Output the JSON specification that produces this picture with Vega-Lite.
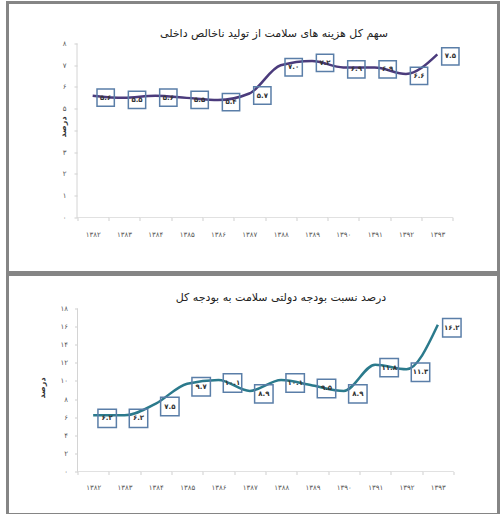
{
  "$schema": "https://vega.github.io/schema/vega-lite/v6.json",
  "padding": {"left": 5.5, "top": 0.5, "right": 0, "bottom": 0},
  "spacing": -3,
  "background": "white",
  "config": {
    "font": "DejaVu Sans",
    "view": {"stroke": "#858585", "strokeWidth": 3},
    "axis": {"grid": false, "domain": false, "tickColor": "#cfcfcf", "tickSize": 3, "labelColor": "#555", "labelFontSize": 7}
  },
  "datasets": {
    "gdp": [
      {"year": "۱۳۸۲", "v": 5.6, "label": "۵.۶"},
      {"year": "۱۳۸۳", "v": 5.5, "label": "۵.۵"},
      {"year": "۱۳۸۴", "v": 5.6, "label": "۵.۶"},
      {"year": "۱۳۸۵", "v": 5.5, "label": "۵.۵"},
      {"year": "۱۳۸۶", "v": 5.4, "label": "۵.۴"},
      {"year": "۱۳۸۷", "v": 5.7, "label": "۵.۷"},
      {"year": "۱۳۸۸", "v": 7.0, "label": "۷.۰"},
      {"year": "۱۳۸۹", "v": 7.2, "label": "۷.۲"},
      {"year": "۱۳۹۰", "v": 6.9, "label": "۶.۹"},
      {"year": "۱۳۹۱", "v": 6.9, "label": "۶.۹"},
      {"year": "۱۳۹۲", "v": 6.6, "label": "۶.۶"},
      {"year": "۱۳۹۳", "v": 7.5, "label": "۷.۵"}
    ],
    "budget": [
      {"year": "۱۳۸۲", "v": 6.2, "label": "۶.۲"},
      {"year": "۱۳۸۳", "v": 6.2, "label": "۶.۲"},
      {"year": "۱۳۸۴", "v": 7.5, "label": "۷.۵"},
      {"year": "۱۳۸۵", "v": 9.7, "label": "۹.۷"},
      {"year": "۱۳۸۶", "v": 10.1, "label": "۱۰.۱"},
      {"year": "۱۳۸۷", "v": 8.9, "label": "۸.۹"},
      {"year": "۱۳۸۸", "v": 10.1, "label": "۱۰.۱"},
      {"year": "۱۳۸۹", "v": 9.5, "label": "۹.۵"},
      {"year": "۱۳۹۰", "v": 8.9, "label": "۸.۹"},
      {"year": "۱۳۹۱", "v": 11.8, "label": "۱۱.۸"},
      {"year": "۱۳۹۲", "v": 11.3, "label": "۱۱.۳"},
      {"year": "۱۳۹۳", "v": 16.2, "label": "۱۶.۲"}
    ]
  },
  "vconcat": [
    {
      "width": 491,
      "height": 270,
      "data": {"name": "gdp"},
      "title": {"text": "سهم کل هزینه های سلامت از تولید ناخالص داخلی", "frame": "group", "anchor": "middle", "offset": -42, "baseline": "middle", "dx": 21, "fontSize": 11, "fontWeight": "normal", "color": "#222"},
      "encoding": {
        "x": {"field": "year", "type": "nominal", "sort": null,
          "scale": {"type": "band", "paddingInner": 0, "paddingOuter": 0, "range": [69.5, 445.5]},
          "axis": {"orient": "bottom", "offset": -55, "tickBand": "extent", "labelAngle": 0, "labelPadding": 10, "title": null}},
        "y": {"field": "v", "type": "quantitative",
          "scale": {"domain": [-2.529, 9.885], "nice": false, "zero": false},
          "axis": {"offset": -69.5, "values": [0, 1, 2, 3, 4, 5, 6, 7, 8], "labelExpr": "['۰','۱','۲','۳','','۵','۶','۷','۸'][datum.value]", "labelPadding": 8, "title": "درصد", "titleX": -14, "titleY": 124, "titleAngle": 270, "titleAlign": "center", "titleBaseline": "middle", "titleFontSize": 8, "titleFontWeight": "bold", "titleColor": "#333"}}
      },
      "layer": [
        {"mark": {"type": "rule", "color": "#d4d4d4", "strokeWidth": 1},
          "transform": [{"filter": "datum.year == '۱۳۸۲'"}],
          "encoding": {"x": {"field": "year", "type": "nominal", "bandPosition": 0}, "y": {"datum": 0}, "y2": {"datum": 8}}},
        {"mark": {"type": "tick", "color": "#d4d4d4", "thickness": 1, "size": 32},
          "encoding": {"y": {"datum": 0}}},
        {"mark": {"type": "line", "interpolate": "monotone", "color": "#4b3b7c", "strokeWidth": 2.5}},
        {"mark": {"type": "point", "shape": "square", "size": 300, "filled": false, "stroke": "#5a7ea8", "strokeWidth": 1.5, "opacity": 1, "xOffset": 13, "yOffset": 2}},
        {"mark": {"type": "text", "fontSize": 7, "fontWeight": "bold", "color": "#333", "xOffset": 13, "yOffset": 2},
          "encoding": {"text": {"field": "label"}}}
      ]
    },
    {
      "width": 491,
      "height": 240,
      "data": {"name": "budget"},
      "title": {"text": "درصد نسبت بودجه دولتی سلامت به بودجه کل", "frame": "group", "anchor": "middle", "offset": -34, "baseline": "middle", "dx": 28, "fontSize": 11, "fontWeight": "normal", "color": "#222"},
      "encoding": {
        "x": {"field": "year", "type": "nominal", "sort": null,
          "scale": {"type": "band", "paddingInner": 0, "paddingOuter": 0, "range": [70, 446]},
          "axis": {"orient": "bottom", "offset": -43, "tickBand": "extent", "labelAngle": 0, "labelPadding": 9, "title": null}},
        "y": {"field": "v", "type": "quantitative",
          "scale": {"domain": [-4.748, 21.754], "nice": false, "zero": false},
          "axis": {"offset": -70, "values": [0, 2, 4, 6, 8, 10, 12, 14, 16, 18], "labelExpr": "['۰','','۲','','۴','','۶','','۸','','۱۰','','۱۲','','۱۴','','۱۶','','۱۸'][datum.value]", "labelPadding": 7, "title": "درصد", "titleX": -35, "titleY": 113, "titleAngle": 270, "titleAlign": "center", "titleBaseline": "middle", "titleFontSize": 8, "titleFontWeight": "bold", "titleColor": "#333"}}
      },
      "layer": [
        {"mark": {"type": "rule", "color": "#d4d4d4", "strokeWidth": 1},
          "transform": [{"filter": "datum.year == '۱۳۸۲'"}],
          "encoding": {"x": {"field": "year", "type": "nominal", "bandPosition": 0}, "y": {"datum": 0}, "y2": {"datum": 18}}},
        {"mark": {"type": "tick", "color": "#d4d4d4", "thickness": 1, "size": 32},
          "encoding": {"y": {"datum": 0}}},
        {"mark": {"type": "line", "interpolate": "monotone", "color": "#2b7a8c", "strokeWidth": 2.5}},
        {"mark": {"type": "point", "shape": "square", "size": 340, "filled": false, "stroke": "#5a7ea8", "strokeWidth": 1.5, "opacity": 1, "xOffset": 14, "yOffset": 3}},
        {"mark": {"type": "text", "fontSize": 7, "fontWeight": "bold", "color": "#333", "xOffset": 14, "yOffset": 3},
          "encoding": {"text": {"field": "label"}}}
      ]
    }
  ]
}
